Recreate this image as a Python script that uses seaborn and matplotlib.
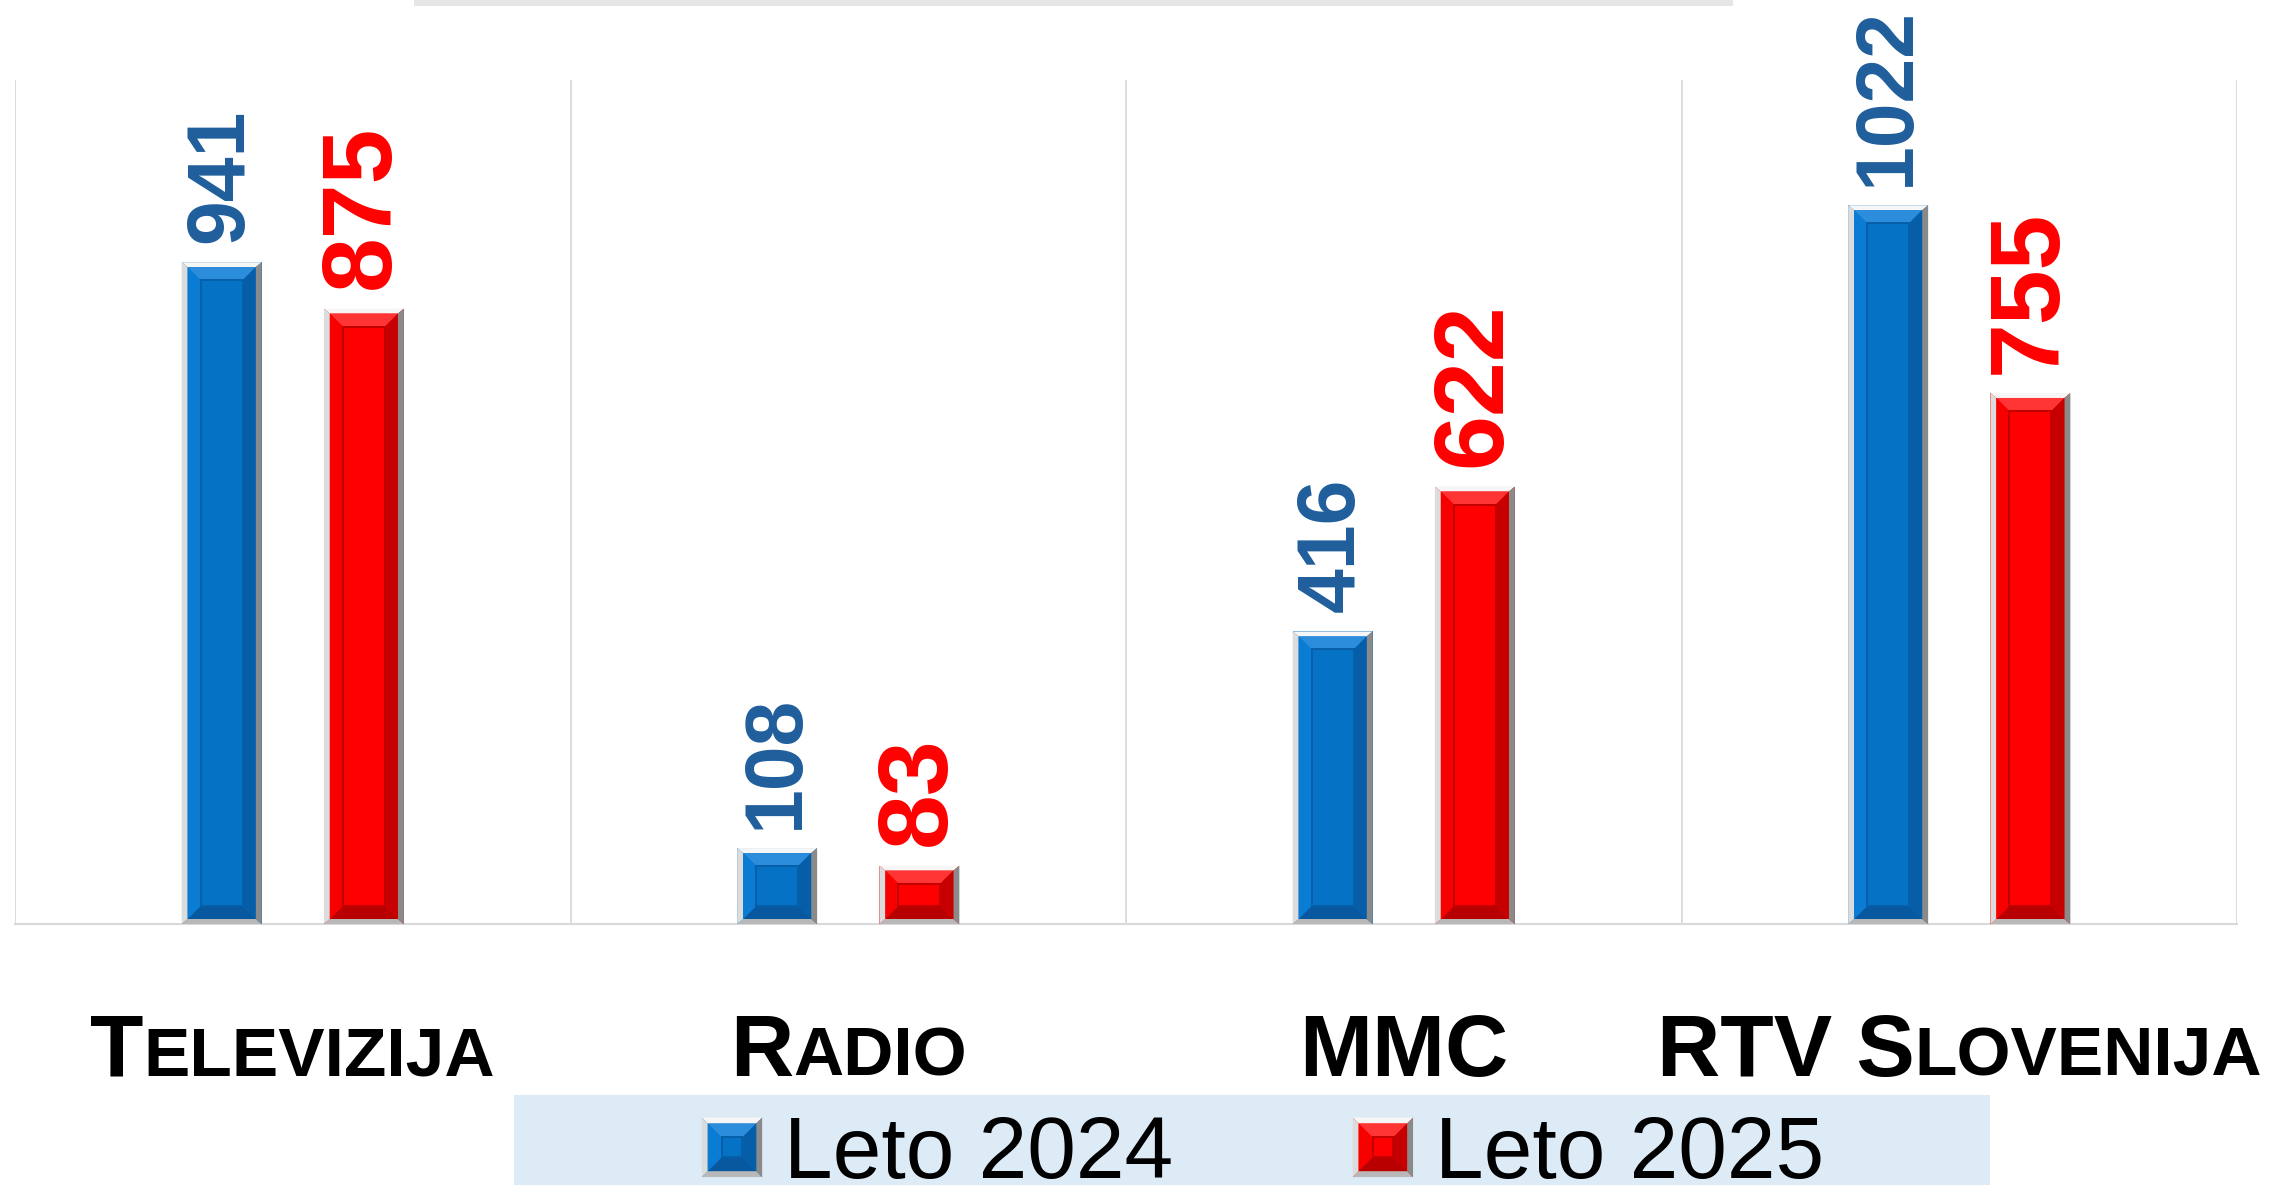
import matplotlib
matplotlib.use("Agg")
import matplotlib.pyplot as plt
import matplotlib.patches as mpatches
from matplotlib.legend_handler import HandlerBase
from matplotlib.offsetbox import TextArea, HPacker, AnnotationBbox
import pandas as pd
import seaborn as sns

# data
categories = ["Televizija", "Radio", "MMC", "RTV Slovenija"]
years = ["Leto 2024", "Leto 2025"]
values_2024 = [941, 108, 416, 1022]
values_2025 = [875, 83, 622, 755]

# bar colours and bevel shades (main, top, bottom, left, right, inner line)
shades = {
    "Leto 2024": ["#0672C5", "#2C8DDD", "#0858A0", "#0B7CD3", "#075EA8", "#075FA9"],
    "Leto 2025": ["#FF0000", "#FF3434", "#B90000", "#F60000", "#C60000", "#C20000"],
}
frame_cols = ["#F6F6F6", "#B8B8B8", "#DCDCDC", "#8A8A8A"]  # top, bottom, left, right
label_cols = {"Leto 2024": "#1F5E9C", "Leto 2025": "#FF0000"}
label_size = {"Leto 2024": 58, "Leto 2025": 71}

df = pd.DataFrame({
    "kategorija": categories * 2,
    "leto": [years[0]] * len(categories) + [years[1]] * len(categories),
    "vrednost": values_2024 + values_2025,
})

sns.set_theme(style="white")
plt.rcParams["font.family"] = ["Liberation Sans", "DejaVu Sans"]

W, H = 2285, 1185
fig = plt.figure(figsize=(W / 100, H / 100), dpi=100)
fig.patch.set_facecolor("white")
ax = fig.add_axes([15 / W, 1 - 924 / H, 2222 / W, 844 / H])

sns.barplot(data=df, x="kategorija", y="vrednost", hue="leto", hue_order=years,
            palette={y: shades[y][0] for y in years}, saturation=1, errorbar=None,
            width=0.512, gap=0.4375, legend=False, edgecolor="none", linewidth=0, ax=ax)

ax.set_xlim(-0.5, len(categories) - 0.5)
ax.set_ylim(0, 1200)
ax.set_xlabel("")
ax.set_ylabel("")
ax.set_yticks([])
ax.set_xticks(range(len(categories)))
ax.set_xticks([i - 0.5 for i in range(len(categories) + 1)], minor=True)
ax.tick_params(which="both", length=0, labelbottom=False)
ax.grid(which="minor", axis="x", color="#D9D9D9", linewidth=1.3)
ax.grid(which="major", visible=False)
for side in ["top", "left", "right"]:
    ax.spines[side].set_visible(False)
ax.spines["bottom"].set_color("#D9D9D9")
ax.spines["bottom"].set_linewidth(1.5)


def ring(ox0, oy0, ox1, oy1, dx, dy, cols, zorder, transform):
    ix0, iy0, ix1, iy1 = ox0 + dx, oy0 + dy, ox1 - dx, oy1 - dy
    polys = [
        [(ox0, oy1), (ox1, oy1), (ix1, iy1), (ix0, iy1)],
        [(ox0, oy0), (ox1, oy0), (ix1, iy0), (ix0, iy0)],
        [(ox0, oy0), (ix0, iy0), (ix0, iy1), (ox0, oy1)],
        [(ox1, oy0), (ix1, iy0), (ix1, iy1), (ox1, oy1)],
    ]
    arts = [mpatches.Polygon(p, closed=True, facecolor=c, edgecolor="none",
                             zorder=zorder, transform=transform) for p, c in zip(polys, cols)]
    return arts, (ix0, iy0, ix1, iy1)


def bevel(x0, y0, x1, y1, fx, fy, bx, by, sh, zorder, transform):
    arts = [mpatches.Rectangle((x0, y0), x1 - x0, y1 - y0, facecolor=sh[0],
                               edgecolor="none", zorder=zorder, transform=transform)]
    a, (x0, y0, x1, y1) = ring(x0, y0, x1, y1, fx, fy, frame_cols, zorder + 0.1, transform)
    arts += a
    by = min(by, (y1 - y0) / 3)
    a, (x0, y0, x1, y1) = ring(x0, y0, x1, y1, bx, by, sh[1:5], zorder + 0.2, transform)
    arts += a
    arts.append(mpatches.Rectangle((x0, y0), x1 - x0, y1 - y0, facecolor=sh[0],
                                   edgecolor=sh[5], linewidth=1.4, zorder=zorder + 0.3,
                                   transform=transform))
    return arts


# pixels per data unit, for the bevel widths
p0 = ax.transData.transform((0, 0))
p1 = ax.transData.transform((1, 1))
sx, sy = p1[0] - p0[0], p1[1] - p0[1]

for year, cont in zip(years, ax.containers):
    for bar in cont.patches:
        x0, y0 = bar.get_x(), bar.get_y()
        x1, y1 = x0 + bar.get_width(), y0 + bar.get_height()
        for art in bevel(x0, y0, x1, y1, 6 / sx, 5 / sy, 13 / sx, 13 / sy,
                         shades[year], 3, ax.transData):
            ax.add_patch(art)
    ax.bar_label(cont, padding=14, rotation=90, color=label_cols[year],
                 fontsize=label_size[year], fontweight="bold")

# category labels in small caps
for i, name in enumerate(categories):
    runs = []
    for ch in name:
        big = not ch.islower()
        if runs and runs[-1][1] == big:
            runs[-1][0] += ch.upper()
        else:
            runs.append([ch.upper(), big])
    boxes = [TextArea(t, textprops=dict(fontsize=63 if b else 50, fontweight="bold",
                                         color="black")) for t, b in runs]
    pack = HPacker(children=boxes, align="baseline", pad=0, sep=0)
    ab = AnnotationBbox(pack, (i, -0.201), xycoords=("data", "axes fraction"),
                        box_alignment=(0.5, 0.0), frameon=False, annotation_clip=False)
    ax.add_artist(ab)

# strip at the top and legend background
fig.add_artist(mpatches.Rectangle((414 / W, 1 - 6 / H), 1319 / W, 6 / H,
                                  transform=fig.transFigure, facecolor="#E6E6E6",
                                  edgecolor="none", zorder=0))
fig.add_artist(mpatches.Rectangle((514 / W, 0), 1476 / W, 90 / H,
                                  transform=fig.transFigure, facecolor="#DDEBF7",
                                  edgecolor="none", zorder=0))


class BevelHandler(HandlerBase):
    def create_artists(self, legend, orig_handle, xdescent, ydescent, width, height,
                       fontsize, trans):
        x0, y0 = -xdescent, -ydescent
        return bevel(x0, y0, x0 + width, y0 + height, 4.3, 4.3, 10, 10,
                     shades[orig_handle.get_label()], 3, trans)


handles = [mpatches.Patch(label=y) for y in years]
fig.legend(handles, years, loc="lower center", bbox_to_anchor=(0.5527, -11 / H),
           ncol=2, frameon=False, fontsize=63, labelcolor="black",
           handlelength=0.69, handleheight=0.67,
           handletextpad=0.25, columnspacing=2.05, borderpad=0, borderaxespad=0,
           handler_map={mpatches.Patch: BevelHandler()})

fig.savefig("out.png", dpi=100)
